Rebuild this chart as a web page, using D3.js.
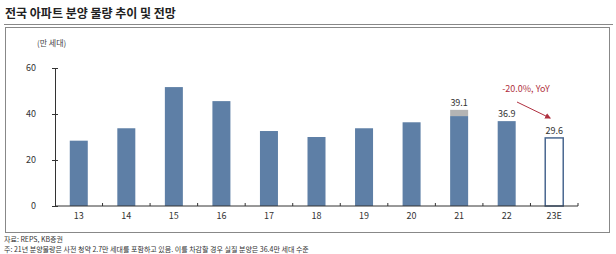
<!DOCTYPE html>
<html>
<head>
<meta charset="utf-8">
<script src="https://cdn.jsdelivr.net/npm/d3@7"></script>
<style>
body { margin: 0; background: #fff; }
text { font-family: "Noto Sans CJK KR", "Noto Sans", sans-serif; }
</style>
</head>
<body>
<div id="graphic"></div>
<script>
var years = ["13", "14", "15", "16", "17", "18", "19", "20", "21", "22", "23E"];
var supply = [28.4, 33.8, 51.7, 45.6, 32.6, 30.0, 33.8, 36.4, 39.1, 36.9, 29.6];
var preSale = [0, 0, 0, 0, 0, 0, 0, 0, 2.7, 0, 0];
var valueLabels = {"21": "39.1", "22": "36.9", "23E": "29.6"};
var yTicks = [0, 20, 40, 60];

var width = 616, height = 254;
var margin = {top: 68, right: 38, bottom: 48, left: 55};

var svg = d3.select("#graphic").append("svg")
	.attr("width", width)
	.attr("height", height);

// title + frame
svg.append("text")
	.attr("x", 5).attr("y", 18)
	.attr("font-size", 12).attr("font-weight", "bold")
	.attr("fill", "#222")
	.text("전국 아파트 분양 물량 추이 및 전망");
svg.append("line").attr("x1", 4).attr("x2", 613).attr("y1", 24.5).attr("y2", 24.5)
	.attr("stroke", "#888").attr("stroke-width", 1);
svg.append("rect").attr("x", 5.5).attr("y", 27.5).attr("width", 604).attr("height", 205)
	.attr("fill", "none").attr("stroke", "#888").attr("stroke-width", 1);

var x = d3.scaleBand().domain(years).range([margin.left, width - margin.right]);
var y = d3.scaleLinear().domain([0, 60]).range([206, margin.top]);
var barW = 18;

var features = svg.append("g");

features.selectAll(".bar").data(years).enter().append("rect")
	.attr("class", "bar")
	.attr("x", function(d) { return x(d) + x.bandwidth() / 2 - barW / 2; })
	.attr("width", barW)
	.attr("y", function(d, i) { return y(supply[i]); })
	.attr("height", function(d, i) { return y(0) - y(supply[i]); })
	.attr("fill", function(d) { return d == "23E" ? "#fff" : "#5e7fa6"; })
	.attr("stroke", function(d) { return d == "23E" ? "#4a6890" : "none"; })
	.attr("stroke-width", 1.5);

features.selectAll(".pre").data(years.filter(function(d, i) { return preSale[i] > 0; })).enter().append("rect")
	.attr("class", "pre")
	.attr("x", function(d) { return x(d) + x.bandwidth() / 2 - barW / 2; })
	.attr("width", barW)
	.attr("y", function(d) { var i = years.indexOf(d); return y(supply[i] + preSale[i]); })
	.attr("height", function(d) { var i = years.indexOf(d); return y(0) - y(preSale[i]); })
	.attr("fill", "#b4b4b4");

features.selectAll(".vlab").data(Object.keys(valueLabels)).enter().append("text")
	.attr("x", function(d) { return x(d) + x.bandwidth() / 2; })
	.attr("y", function(d) { var i = years.indexOf(d); return y(supply[i] + preSale[i]) - 4; })
	.attr("text-anchor", "middle")
	.attr("font-size", 9).attr("fill", "#333")
	.text(function(d) { return valueLabels[d]; });

// axes
var yAxis = svg.append("g").attr("transform", "translate(" + margin.left + ",0)")
	.call(d3.axisLeft(y).tickValues(yTicks).tickSizeInner(3).tickSizeOuter(0).tickPadding(16));
yAxis.select(".domain").attr("stroke", "#333");
yAxis.selectAll(".tick line").attr("x2", 3).attr("x1", -3).attr("stroke", "#333");
yAxis.selectAll("text").attr("font-size", 9).attr("fill", "#333").style("font-family", "Noto Sans CJK KR");

svg.append("line").attr("x1", margin.left).attr("x2", width - margin.right)
	.attr("y1", y(0)).attr("y2", y(0)).attr("stroke", "#333");
var bounds = years.map(function(d) { return x(d); }).concat([x(years[years.length - 1]) + x.bandwidth()]);
svg.selectAll(".xt").data(bounds.slice(1)).enter().append("line")
	.attr("x1", function(d) { return d; }).attr("x2", function(d) { return d; })
	.attr("y1", y(0) - 3).attr("y2", y(0)).attr("stroke", "#333");
svg.selectAll(".xl").data(years).enter().append("text")
	.attr("x", function(d) { return x(d) + x.bandwidth() / 2; })
	.attr("y", 219)
	.attr("text-anchor", "middle")
	.attr("font-size", 9).attr("fill", "#333")
	.text(function(d) { return d; });

svg.append("text").attr("x", 37).attr("y", 46).attr("font-size", 8).attr("fill", "#444").text("(만 세대)");

// annotation
var red = "#b03040";
svg.append("defs").append("marker")
	.attr("id", "arr").attr("viewBox", "0 0 10 10").attr("refX", 8).attr("refY", 5)
	.attr("markerWidth", 6).attr("markerHeight", 6).attr("orient", "auto")
	.append("path").attr("d", "M0,0L10,5L0,10z").attr("fill", red);
svg.append("line").attr("x1", 517).attr("y1", 102).attr("x2", 550).attr("y2", 118)
	.attr("stroke", red).attr("stroke-width", 1).attr("marker-end", "url(#arr)");
svg.append("text").attr("x", 526).attr("y", 92).attr("text-anchor", "middle")
	.attr("font-size", 9).attr("fill", red).text("-20.0%, YoY");

// source
svg.append("text").attr("x", 4).attr("y", 242).attr("font-size", 7).attr("fill", "#333").text("자료: REPS, KB증권");
svg.append("text").attr("x", 4).attr("y", 251.5).attr("font-size", 7).attr("fill", "#333")
	.text("주: 21년 분양물량은 사전 청약 2.7만 세대를 포함하고 있음. 이를 차감할 경우 실질 분양은 36.4만 세대 수준");
</script>
</body>
</html>
